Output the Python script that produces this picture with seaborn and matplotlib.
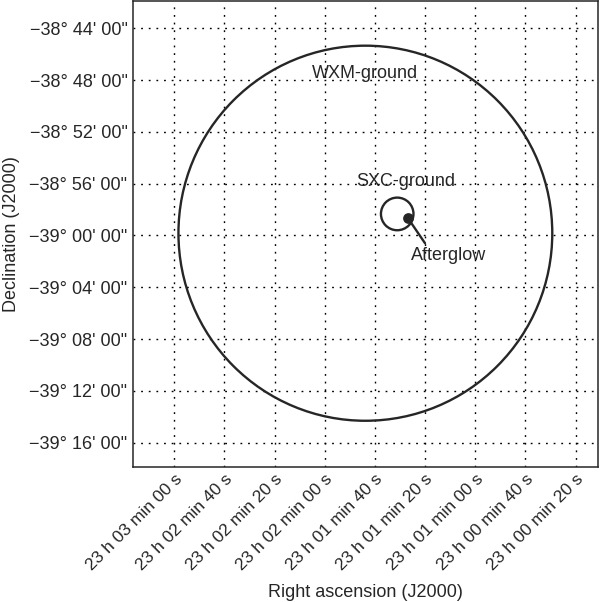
import numpy as np
import matplotlib
matplotlib.use("Agg")
import matplotlib.pyplot as plt
from matplotlib.patches import Ellipse
import seaborn as sns

# RA in seconds past 23h00m00s, Dec in arcmin relative to -39°00'00"
ra_ticks = [180, 160, 140, 120, 100, 80, 60, 40, 20]
ra_labels = ["23 h 03 min 00 s", "23 h 02 min 40 s", "23 h 02 min 20 s",
             "23 h 02 min 00 s", "23 h 01 min 40 s", "23 h 01 min 20 s",
             "23 h 01 min 00 s", "23 h 00 min 40 s", "23 h 00 min 20 s"]
dec_ticks = [16, 12, 8, 4, 0, -4, -8, -12, -16]
dec_labels = ["\u221238\u00b0 44' 00\"", "\u221238\u00b0 48' 00\"", "\u221238\u00b0 52' 00\"",
              "\u221238\u00b0 56' 00\"", "\u221239\u00b0 00' 00\"", "\u221239\u00b0 04' 00\"",
              "\u221239\u00b0 08' 00\"", "\u221239\u00b0 12' 00\"", "\u221239\u00b0 16' 00\""]

# error regions: name, RA centre (s), Dec centre (arcmin), radius (arcmin)
region_names = ["WXM-ground", "SXC-ground"]
region_ra = [103.8, 91.1]
region_dec = [0.17, 1.66]
region_radius = [14.48, 1.26]
label_ra = [104.0, 87.7]
label_dec = [12.47, 4.13]

afterglow_ra = [86.8]
afterglow_dec = [1.33]

dec0 = -39.0
sec_to_arcmin = 0.25 * np.cos(np.radians(dec0))

sns.set_theme(style="white")
plt.rcParams["font.family"] = ["Liberation Sans", "DejaVu Sans"]
ink = "#262626"
fs = 13

fig = plt.figure(figsize=(6, 6.02), dpi=100)
ax = fig.add_axes([133 / 600, 1 - 467 / 602, 465 / 600, 466 / 602])

for name, ra, dec, r, lx, ly in zip(region_names, region_ra, region_dec,
                                    region_radius, label_ra, label_dec):
    ax.add_patch(Ellipse((ra, dec), width=2 * r / sec_to_arcmin, height=2 * r,
                         fill=False, edgecolor=ink, linewidth=1.7, zorder=3))
    ax.text(lx, ly, name, ha="center", va="center", fontsize=fs, color=ink)

sns.scatterplot(x=afterglow_ra, y=afterglow_dec, s=60, color=ink,
                edgecolor=ink, linewidth=0, zorder=4, ax=ax)
ax.annotate("", xy=(afterglow_ra[0], afterglow_dec[0]), xytext=(17, -25),
            textcoords="offset pixels",
            arrowprops=dict(arrowstyle="-", color=ink, lw=1.7,
                            shrinkA=0, shrinkB=0))
ax.annotate("Afterglow", xy=(afterglow_ra[0], afterglow_dec[0]), xytext=(3, -37),
            textcoords="offset pixels", ha="left", va="center",
            fontsize=fs, color=ink)

ax.set_xlim(196.45, 11.04)
ax.set_ylim(-17.88, 18.1)
ax.set_xticks(ra_ticks)
ax.set_xticklabels(ra_labels, rotation=45, ha="right", rotation_mode="anchor")
ax.set_yticks(dec_ticks)
ax.set_yticklabels(dec_labels)
ax.tick_params(axis="both", length=0, labelsize=fs, labelcolor=ink)
ax.tick_params(axis="x", pad=3, labelsize=12.5)
ax.tick_params(axis="y", pad=4)

ax.grid(True, color="black", linestyle=(0, (1.3, 4.2)), linewidth=1.0)
for sp in ax.spines.values():
    sp.set_color(ink)
    sp.set_linewidth(1.1)
    sp.set_visible(True)

ax.set_xlabel("Right ascension (J2000)", fontsize=fs, color=ink)
ax.set_ylabel("Declination (J2000)", fontsize=fs, color=ink)
ax.xaxis.set_label_coords(0.5, -0.252)
ax.yaxis.set_label_coords(-0.243, 0.5)

fig.savefig("out.png", dpi=100)
